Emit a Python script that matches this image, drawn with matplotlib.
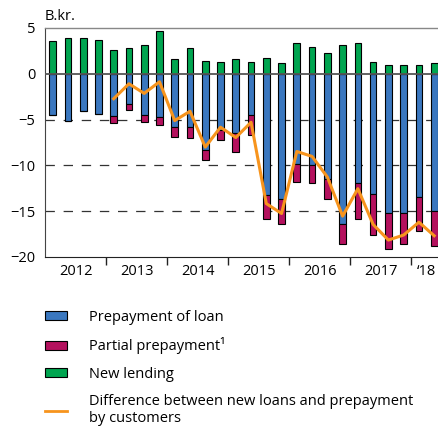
import numpy as np
import matplotlib
matplotlib.use("Agg")
import matplotlib.pyplot as plt
from matplotlib.patches import Patch
from matplotlib.lines import Line2D

plt.rcParams["font.family"] = ["Open Sans", "DejaVu Sans"]

# -----------------------------
# DATA (quarterly, B.kr.)
# -----------------------------
new_lending = [3.55, 3.95, 3.88, 3.73,
               2.64, 2.83, 3.15, 4.64,
               1.67, 2.79, 1.38, 1.34,
               1.59, 1.30, 1.70, 1.16,
               3.33, 2.90, 2.28, 3.12,
               3.37, 1.27, 0.98, 1.01,
               1.00, 1.16]
prepayment = [-4.49, -5.18, -4.06, -4.35,
              -4.64, -3.33, -4.49, -4.71,
              -5.83, -5.80, -8.30, -6.12,
              -6.45, -4.49, -13.19, -13.70,
              -9.82, -9.93, -11.45, -16.45,
              -11.92, -13.08, -15.25, -15.25,
              -13.44, -15.00]
partial_prepayment = [0, 0, 0, 0,
                      -0.69, -0.66, -0.76, -0.87,
                      -1.05, -1.19, -1.12, -1.13,
                      -2.10, -2.14, -2.71, -2.75,
                      -2.03, -1.99, -2.17, -2.10,
                      -3.95, -4.56, -3.92, -3.30,
                      -3.73, -3.80]
# difference line starts in 2013 Q1
difference = [np.nan, np.nan, np.nan, np.nan,
              -2.72, -1.09, -2.14, -0.87,
              -5.11, -4.09, -8.00, -5.83,
              -6.96, -5.29, -14.17, -15.25,
              -8.48, -9.02, -11.27, -15.54,
              -12.54, -16.45, -18.15, -17.60,
              -16.20, -17.68]
year_labels = ["2012", "2013", "2014", "2015", "2016", "2017", "\u201818"]

BLUE = "#3a77bf"
RED = "#b4115e"
GREEN = "#00a550"
ORANGE = "#f7941d"

# -----------------------------
# PLOT
# -----------------------------
x = np.arange(len(new_lending))
width = 0.44

fig = plt.figure(figsize=(4.38, 4.26), dpi=100)
ax = fig.add_axes([45 / 438, 1 - 257 / 426, 1 - 45 / 438, (257 - 28) / 426])

# grid lines
for yv in [-5, -10, -15]:
    ax.axhline(yv, color="#333333", linewidth=0.9, dashes=(7.5, 7), zorder=0)

ax.bar(x, prepayment, width, color=BLUE, edgecolor="black", linewidth=0.8, zorder=2)
ax.bar(x, partial_prepayment, width, bottom=prepayment, color=RED,
       edgecolor="black", linewidth=0.8, zorder=2)
ax.bar(x, new_lending, width, color=GREEN, edgecolor="black", linewidth=0.8, zorder=2)

ax.axhline(0, color="#555555", linewidth=1.3, zorder=3)

ax.plot(x, difference, color=ORANGE, linewidth=2.2, zorder=4)

ax.set_xlim(-0.5, 25.25)
ax.set_ylim(-20, 5)

# spines
ax.spines["right"].set_visible(False)
ax.spines["top"].set_color("#888888")
ax.spines["top"].set_linewidth(1.0)
ax.spines["left"].set_color("#444444")
ax.spines["bottom"].set_color("#222222")

# y axis
ax.set_yticks([5, 0, -5, -10, -15, -20])
ax.tick_params(axis="y", length=0, pad=7, labelsize=10.5)

# x axis: year separators as major ticks, labels at group centres
ax.set_xticks([3.5, 7.5, 11.5, 15.5, 19.5, 23.5])
ax.set_xticklabels([])
ax.set_xticks([1.5, 5.5, 9.5, 13.5, 17.5, 21.5, 24.5], minor=True)
ax.set_xticklabels(year_labels, minor=True)
ax.tick_params(axis="x", which="major", length=6, width=1, color="#222222", direction="out")
ax.tick_params(axis="x", which="minor", length=0, pad=5, labelsize=10.5)

fig.text(45 / 438, 1 - 20 / 426, "B.kr.", fontsize=10.5, va="baseline", ha="left")

# -----------------------------
# LEGEND
# -----------------------------
handles = [
    Patch(facecolor=BLUE, edgecolor="black", linewidth=0.8),
    Patch(facecolor=RED, edgecolor="black", linewidth=0.8),
    Patch(facecolor=GREEN, edgecolor="black", linewidth=0.8),
    Line2D([0], [0], color=ORANGE, linewidth=2.0),
]
labels = [
    "Prepayment of loan",
    "Partial prepayment\u00b9",
    "New lending",
    "Difference between new loans and prepayment\nby customers",
]
fig.legend(handles, labels, loc="upper left",
           bbox_to_anchor=(45 / 438, 1 - 310 / 426),
           frameon=False, fontsize=10.5, borderpad=0, borderaxespad=0,
           handlelength=1.5, handleheight=0.55, handletextpad=1.55,
           labelspacing=0.85)

fig.savefig("out.png", dpi=100)
